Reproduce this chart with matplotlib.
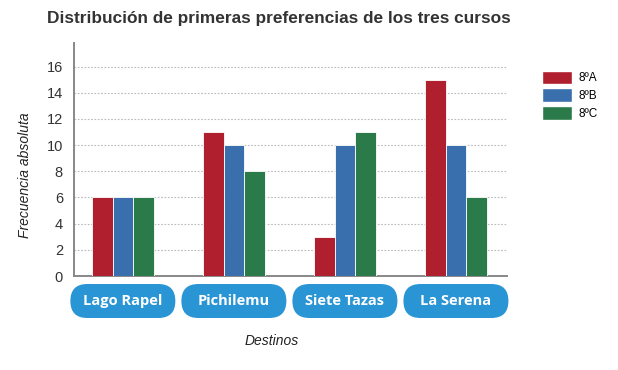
import numpy as np
import matplotlib; matplotlib.use("Agg")
import matplotlib.pyplot as plt
from matplotlib.patches import FancyBboxPatch, Patch

destinos = ["Lago Rapel", "Pichilemu", "Siete Tazas", "La Serena"]
cursos = ["8ºA", "8ºB", "8ºC"]
v_8A = [6, 11, 3, 15]
v_8B = [6, 10, 10, 10]
v_8C = [6, 8, 11, 6]
yticks = [0, 2, 4, 6, 8, 10, 12, 14, 16]

cols = ["#b01f2e", "#3a6fad", "#2a7a4a"]
plt.rcParams["font.family"] = ["Liberation Sans", "DejaVu Sans"]

fig = plt.figure(figsize=(6.18, 3.70), dpi=100)
ax = fig.add_axes([74/618, 1-276/370, (507-74)/618, (276-43)/370])

x = np.arange(len(destinos)); w = 0.185
for k, (vals, c) in enumerate(zip([v_8A, v_8B, v_8C], cols)):
    ax.bar(x + (k-1)*w, vals, w, color=c, edgecolor="white", linewidth=0.6, zorder=3)

ax.set_xlim(-0.44, 3.46); ax.set_ylim(0, 17.8)
ax.set_yticks(yticks)
ax.set_yticklabels([str(t) for t in yticks], fontsize=10.5, color="#333")
ax.set_xticks([])
for t in yticks[1:]:
    ax.axhline(t, color="#bbb", lw=0.8, ls=(0, (1.5, 1.5)), zorder=1)
for s in ["top", "right"]: ax.spines[s].set_visible(False)
for s in ["left", "bottom"]:
    ax.spines[s].set_color("#888"); ax.spines[s].set_linewidth(1.4)
ax.tick_params(axis="y", length=0, pad=8)

fig.text(47/618, 1-18/370, "Distribución de primeras preferencias de los tres cursos",
         fontsize=12.4, fontweight="bold", color="#333", va="center", ha="left")
fig.text(272/618, 1-341/370, "Destinos", fontsize=10, style="italic", color="#222",
         ha="center", va="center")
fig.text(25/618, 1-175/370, "Frecuencia absoluta", fontsize=10, style="italic", color="#222",
         ha="center", va="center", rotation=90)

# pill-shaped category labels
fig.canvas.draw()
for i, name in enumerate(destinos):
    cx = ax.transData.transform((i, 0))[0] / 100
    pw, ph = 1.05, 0.34; cy = (370-301) / 100
    p = FancyBboxPatch((cx-pw/2, cy-ph/2), pw, ph, boxstyle="round,pad=0,rounding_size=0.17",
                       transform=fig.dpi_scale_trans, facecolor="#2a95d5", edgecolor="none")
    fig.add_artist(p)
    fig.text(cx/6.18, cy/3.70, name, fontsize=10.5, fontweight="bold", color="white",
             ha="center", va="center", family=["Open Sans", "DejaVu Sans"])

handles = [Patch(facecolor=c, edgecolor="white") for c in cols]
fig.legend(handles, cursos, loc="upper left", bbox_to_anchor=(531/618, 1-60/370), frameon=False,
           fontsize=8.5, handlelength=2.6, handleheight=1.4, labelspacing=0.35, handletextpad=0.5)

fig.savefig("out.png", dpi=100)
